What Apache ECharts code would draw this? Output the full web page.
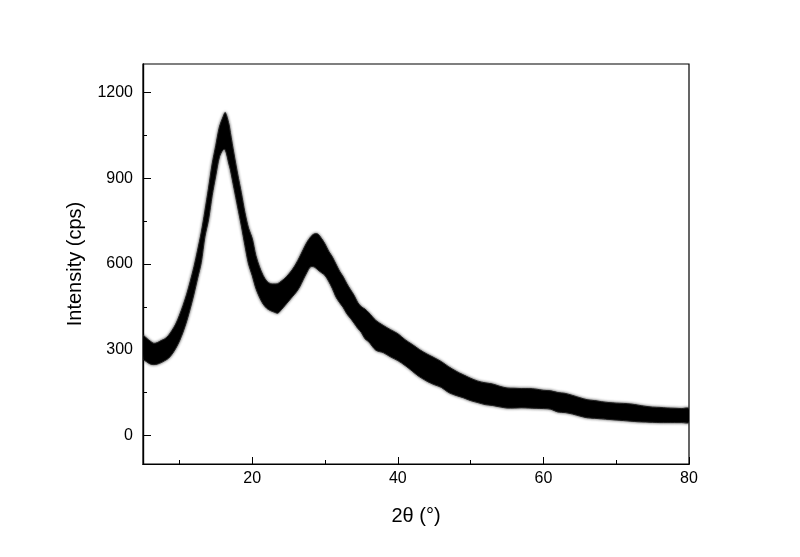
<!DOCTYPE html>
<html>
<head>
<meta charset="utf-8">
<script src="https://cdn.jsdelivr.net/npm/echarts@6/dist/echarts.min.js"></script>
<style>html,body{margin:0;padding:0;background:#fff}#c{width:800px;height:557px}</style>
</head>
<body>
<div id="c"></div>
<script>
// 2θ positions (degrees)
var twoTheta = [5.0,5.5,6.0,6.5,7.0,7.5,8.0,8.5,9.0,9.5,10.0,10.5,11.0,11.5,12.0,12.5,13.0,13.5,14.0,14.5,15.0,15.5,16.0,16.3,16.8,17.0,17.5,18.0,18.5,19.0,19.5,20.0,20.5,21.0,21.5,22.0,22.5,23.0,23.5,24.0,24.5,25.0,25.5,26.0,26.5,27.0,27.5,28.0,28.5,29.0,29.5,30.0,30.5,31.0,31.5,32.0,32.5,33.0,33.5,34.0,34.5,35.0,35.5,36.0,37.0,38.0,39.0,40.0,41.0,42.0,43.0,44.0,45.0,46.0,47.0,48.0,49.0,50.0,51.0,52.0,53.0,54.0,55.0,56.0,57.0,58.0,59.0,60.0,61.0,62.0,63.0,64.0,65.0,66.0,67.0,68.0,69.0,70.0,71.0,72.0,73.0,74.0,75.0,76.0,77.0,78.0,79.0,80.0];
// upper envelope of the noisy trace (cps)
var upperCps = [350,340,330,322,325,332,338,350,368,390,420,455,494,540,590,648,710,785,865,950,1015,1080,1115,1130,1090,1060,985,915,850,780,725,690,630,590,560,540,531,530,531,540,550,564,580,600,624,650,675,694,705,705,690,670,645,625,600,575,555,531,510,490,465,450,442,430,402,385,370,356,335,318,300,285,272,258,240,225,212,200,190,184,180,172,166,165,164,164,162,158,156,150,147,140,132,125,122,118,115,113,112,110,106,102,99,98,96,95,94,94];
// lower envelope of the noisy trace (cps)
var lowerCps = [268,258,250,248,250,255,262,270,285,305,330,362,400,445,495,550,605,695,755,840,910,975,1000,1000,950,930,865,800,735,665,600,560,515,484,460,445,437,432,428,440,455,470,485,500,519,545,570,590,590,580,570,560,540,515,485,465,448,426,410,393,375,360,338,328,298,290,275,262,245,225,205,190,178,168,150,140,132,122,115,108,105,100,96,96,97,96,95,94,92,82,80,75,68,62,60,58,56,54,52,50,48,47,46,45,45,45,45,46];
var xMajorTicks = [20,40,60,80];
var xMinorTicks = [10,30,50,70];
var yMajorTicks = [0,300,600,900,1200];
var yMinorTicks = [150,450,750,1050];

var chart = echarts.init(document.getElementById('c'), null, {renderer:'canvas'});
var font = 'Liberation Sans, Arial, sans-serif';
function plain(v){ return String(v); }
function xAxisDef(major, show) {
  return {
    type:'value', min:5, max:80, position:'bottom',
    axisLine:{show:true, onZero:false, lineStyle:{color:'#000', width:1.2}},
    axisTick:{show:true, inside:true, length: major ? 7 : 4, customValues: major ? xMajorTicks : xMinorTicks, lineStyle:{color:'#000'}},
    axisLabel:{show:show, customValues: xMajorTicks, formatter:plain, color:'#000', fontSize:16, fontFamily:font, margin:7},
    splitLine:{show:false},
    name: show ? '2θ (°)' : '', nameLocation:'middle', nameGap:42,
    nameTextStyle:{color:'#000', fontSize:20, fontFamily:font}
  };
}
function yAxisDef(major, show) {
  return {
    type:'value', min:-100, max:1300, position:'left',
    axisLine:{show:true, onZero:false, lineStyle:{color:'#000', width:1.2}},
    axisTick:{show:true, inside:true, length: major ? 8 : 4, customValues: major ? yMajorTicks : yMinorTicks, lineStyle:{color:'#000'}},
    axisLabel:{show:show, customValues: yMajorTicks, formatter:plain, color:'#000', fontSize:16, fontFamily:font, margin:10},
    splitLine:{show:false},
    name: show ? 'Intensity (cps)' : '', nameLocation:'middle', nameGap:58, nameRotate:90,
    nameTextStyle:{color:'#000', fontSize:20, fontFamily:font}
  };
}
chart.setOption({
  animation:false,
  backgroundColor:'#fff',
  grid:{left:143, right:111, top:64, bottom:93, show:true, borderColor:'#000', borderWidth:1.2, backgroundColor:'transparent'},
  xAxis:[xAxisDef(true,true), xAxisDef(false,false)],
  yAxis:[yAxisDef(true,true), yAxisDef(false,false)],
  series:[{
    type:'custom', xAxisIndex:0, yAxisIndex:0, clip:true,
    data:[[twoTheta[0], lowerCps[0]]],
    renderItem:function(params, api){
      var pts = [];
      for (var i=0;i<twoTheta.length;i++) pts.push(api.coord([twoTheta[i], upperCps[i]]));
      for (var j=twoTheta.length-1;j>=0;j--) pts.push(api.coord([twoTheta[j], lowerCps[j]]));
      return {type:'polygon', shape:{points:pts, smooth:0.3},
        style:{fill:'#000', stroke:'#222', lineWidth:1, shadowBlur:3, shadowColor:'rgba(0,0,0,0.7)'}};
    }
  }]
});
</script>
</body>
</html>
